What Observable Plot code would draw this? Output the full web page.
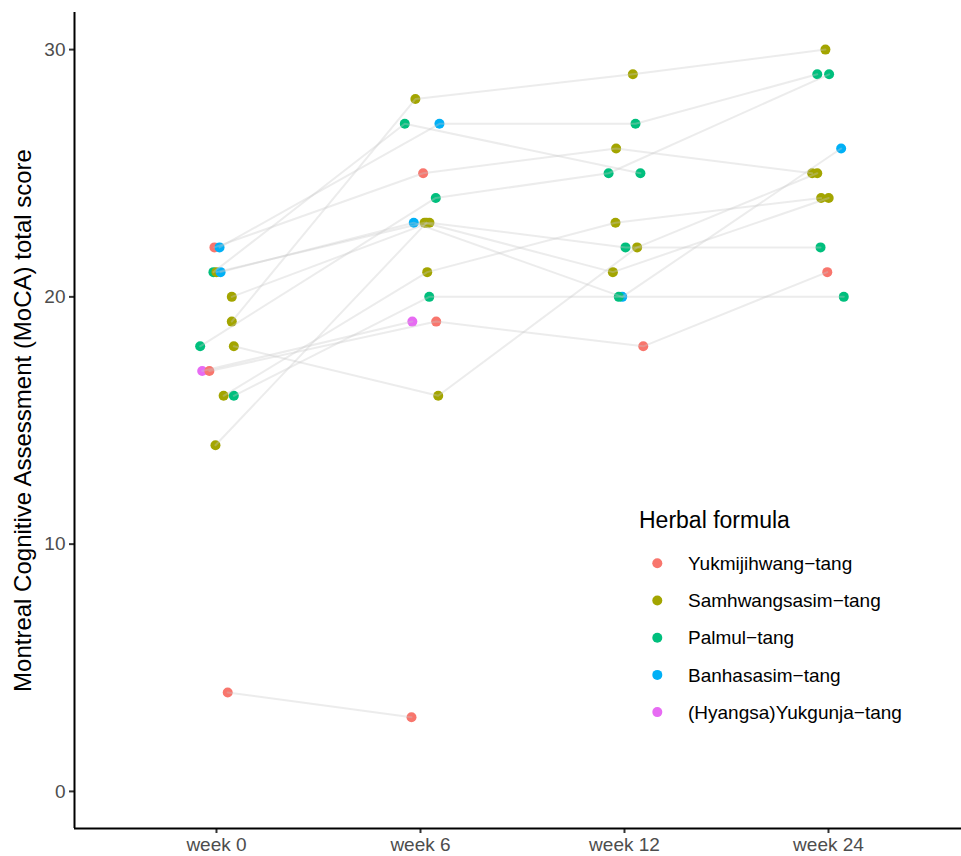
<!DOCTYPE html>
<html>
<head>
<meta charset="utf-8">
<script src="https://cdn.jsdelivr.net/npm/d3@7"></script>
<script src="https://cdn.jsdelivr.net/npm/@observablehq/plot@0.6"></script>
<style>
  body { margin: 0; background: #fff; }
  #chart { width: 961px; height: 856px; }
</style>
</head>
<body>
<div id="chart"></div>
<script>
// ---- data ----
const weeks = ["week 0", "week 6", "week 12", "week 24"];
const formulas = ["Yukmijihwang−tang", "Samhwangsasim−tang", "Palmul−tang", "Banhasasim−tang", "(Hyangsa)Yukgunja−tang"];
const formulaColors = ["#F8766D", "#A3A500", "#00BF7D", "#00B0F6", "#E76BF3"];
const yTicks = [0, 10, 20, 30];
const yTitle = "Montreal Cognitive Assessment (MoCA) total score";
const legendTitle = "Herbal formula";

// MoCA score per subject (15 subjects) at each visit; null = no visit
const score0  = [22, 22, 21, 21, 21, 20, 19, 18, 18, 17, 17, 16, 16, 14, 4];
const score6  = [25, 27, 27, 23, 23, 23, 28, 24, 16, 19, 19, 21, 20, 23, 3];
const score12 = [26, 27, 25, 21, 20, 22, 29, 25, 22, null, 18, 23, 20, null, null];
const score24 = [25, 29, null, 24, 26, 22, 30, 29, 25, null, 21, 24, 20, null, null];

// herbal formula index (into formulas) per subject at each visit
const form0  = [0, 3, 2, 1, 3, 1, 1, 2, 1, 4, 0, 1, 2, 1, 0];
const form6  = [0, 3, 2, 1, 3, 1, 1, 2, 1, 4, 0, 1, 2, 1, 0];
const form12 = [1, 2, 2, 1, 3, 2, 1, 2, 1, null, 0, 1, 2, null, null];
const form24 = [1, 2, null, 1, 3, 2, 1, 2, 1, null, 0, 1, 2, null, null];

// horizontal jitter (in visit units) of each point, as seen in the reference
const jit0  = [-0.01, 0.015, -0.015, 0, 0.02, 0.075, 0.075, -0.08, 0.085, -0.07, -0.035, 0.035, 0.085, -0.005, 0.055];
const jit6  = [0.013, 0.093, -0.077, 0.02, -0.033, 0.044, -0.025, 0.075, 0.087, -0.04, 0.077, 0.033, 0.043, 0.03, -0.044];
const jit12 = [-0.041, 0.054, 0.078, -0.057, -0.011, 0.005, 0.041, -0.078, 0.062, null, 0.092, -0.044, -0.028, null, null];
const jit24 = [-0.08, -0.055, null, 0.001, 0.062, -0.039, -0.015, 0.003, -0.055, null, -0.006, -0.036, 0.075, null, null];

// ---- long table ----
const scores = [score0, score6, score12, score24];
const forms = [form0, form6, form12, form24];
const jits = [jit0, jit6, jit12, jit24];
const rows = [];
for (let s = 0; s < score0.length; s++) {
  for (let w = 0; w < weeks.length; w++) {
    if (scores[w][s] == null) continue;
    rows.push({subject: s, week: w, xpos: w + jits[w][s], score: scores[w][s], formula: formulas[forms[w][s]]});
  }
}

const font = "'Liberation Sans', Arial, Helvetica, sans-serif";
const xDomain = [-0.696, 3.652];
const yDomain = [-1.5, 31.5];

const plot = Plot.plot({
  width: 961,
  height: 856,
  marginLeft: 74,
  marginRight: 0,
  marginTop: 12,
  marginBottom: 28,
  style: {fontFamily: font, background: "#fff", overflow: "visible"},
  x: {domain: xDomain},
  y: {domain: yDomain},
  color: {domain: formulas, range: formulaColors},
  marks: [
    Plot.dot(rows, {x: "xpos", y: "score", fill: "formula", r: 5, stroke: null}),
    Plot.line(rows, {x: "xpos", y: "score", z: "subject", stroke: "#c8c8c8", strokeOpacity: 0.35, strokeWidth: 2, curve: "linear"}),
    Plot.axisY({ticks: yTicks, tickSize: 5, tickPadding: 4, strokeWidth: 2, stroke: "#333333", fill: "#4D4D4D", fontSize: 19, label: null}),
    Plot.axisX({ticks: [0, 1, 2, 3], tickFormat: i => weeks[i], tickSize: 5, tickPadding: 4, strokeWidth: 2, stroke: "#333333", fill: "#4D4D4D", fontSize: 19, label: null}),
    Plot.ruleX([xDomain[0]], {stroke: "black", strokeWidth: 2}),
    Plot.ruleY([yDomain[0]], {stroke: "black", strokeWidth: 2}),
    Plot.text([yTitle], {frameAnchor: "left", textAnchor: "middle", rotate: -90, dx: -51, fontSize: 24, fill: "black"})
  ]
});

// ---- legend inside the panel (bottom right) ----
const svg = d3.select(plot);
const lg = svg.append("g").attr("font-family", font).attr("text-anchor", "start");
lg.append("text")
  .attr("x", 639).attr("y", 528)
  .attr("text-anchor", "start")
  .attr("font-size", 23).attr("fill", "black")
  .text(legendTitle);
formulas.forEach((f, i) => {
  const cy = 563.3 + i * 37.2;
  lg.append("circle").attr("cx", 657.3).attr("cy", cy).attr("r", 5).attr("fill", formulaColors[i]);
  lg.append("text")
    .attr("x", 688).attr("y", cy).attr("dy", "0.35em")
    .attr("text-anchor", "start")
    .attr("font-size", 19).attr("fill", "black")
    .text(f);
});

document.getElementById("chart").appendChild(plot);
</script>
</body>
</html>
